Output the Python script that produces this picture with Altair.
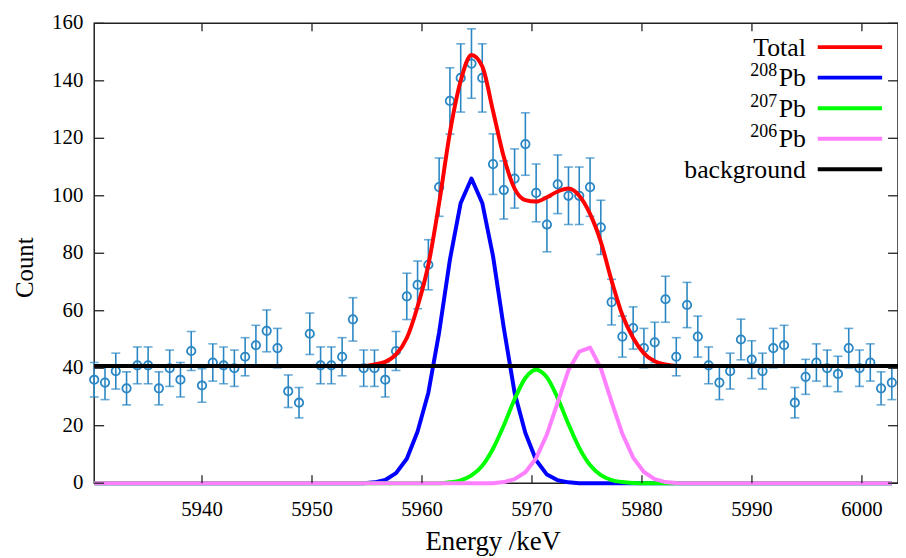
import altair as alt
import pandas as pd

# ---------------- data ----------------
energy = [5930.20, 5931.18, 5932.16, 5933.14, 5934.12, 5935.10, 5936.08, 5937.06, 5938.04, 5939.02,
          5940.00, 5940.98, 5941.96, 5942.94, 5943.92, 5944.90, 5945.88, 5946.86, 5947.84, 5948.82,
          5949.80, 5950.78, 5951.76, 5952.74, 5953.72, 5954.70, 5955.68, 5956.66, 5957.64, 5958.62,
          5959.60, 5960.58, 5961.56, 5962.54, 5963.52, 5964.50, 5965.48, 5966.46, 5967.44, 5968.42,
          5969.40, 5970.38, 5971.36, 5972.34, 5973.32, 5974.30, 5975.28, 5976.26, 5977.24, 5978.22,
          5979.20, 5980.18, 5981.16, 5982.14, 5983.12, 5984.10, 5985.08, 5986.06, 5987.04, 5988.02,
          5989.00, 5989.98, 5990.96, 5991.94, 5992.92, 5993.90, 5994.88, 5995.86, 5996.84, 5997.82,
          5998.80, 5999.78, 6000.76, 6001.74, 6002.72]

counts = [36, 35, 39, 33, 41, 41, 33, 40, 36, 46, 34, 42, 41, 40, 44, 48, 53, 47, 32, 28,
          52, 41, 41, 44, 57, 40, 40, 36, 46, 65, 69, 76, 103, 133, 141, 146, 141, 111, 102, 106,
          118, 101, 90, 104, 100, 100, 103, 89, 63, 51, 54, 47, 49, 64, 44, 62, 51, 41, 35, 39,
          50, 43, 39, 47, 48, 28, 37, 42, 40, 38, 47, 40, 42, 33, 35]

background = [40.8]

# fitted curves, read at the same channel energies (zero / background elsewhere)
pb208 = [0.0] * 26 + [0.3, 1.1, 3.5, 8.5, 18.0, 31.5, 52.5, 77.8, 97.5, 106.0, 97.5, 79.0,
                      54.0, 31.5, 17.5, 8.0, 3.0, 1.0, 0.3] + [0.0] * 30
pb207 = [0.0] * 33 + [0.3, 1.0, 2.7, 6.1, 12.0, 20.1, 29.2, 36.6, 39.5, 36.8, 29.6, 20.5,
                      12.3, 6.3, 2.8, 1.1, 0.4, 0.1] + [0.0] * 24
pb206 = [0.0] * 38 + [0.4, 1.4, 3.8, 8.7, 17.0, 28.1, 39.3, 45.8, 47.2, 40.0, 28.3, 17.2,
                      8.9, 3.9, 1.4, 0.4, 0.1] + [0.0] * 20
total = [40.8] * 26 + [41.3, 42.2, 44.8, 50.5, 61.5, 76.0, 97.5, 122.0, 140.0, 149.0, 145.0,
                       129.5, 113.5, 102.5, 98.5, 98.0, 99.5, 101.5, 102.5, 100.0, 93.7, 84.0,
                       70.5, 58.5, 50.5, 45.2, 42.4, 41.3] + [40.8] * 21

x_ticks = [5940, 5950, 5960, 5970, 5980, 5990, 6000]
y_ticks = [0, 20, 40, 60, 80, 100, 120, 140, 160]

legend_labels = ["Total", "Pb", "Pb", "Pb", "background"]
legend_sups = ["", "208", "207", "206", ""]
legend_colors = ["#ff0000", "#0000ff", "#00ff00", "#ff80ff", "#000000"]

# ---------------- styling ----------------
W, H = 811, 464
FONT = "Liberation Serif"
PT = "#2b87c4"

xs = alt.Scale(domain=[5930.2, 6003.28], nice=False, zero=False)
ys = alt.Scale(domain=[0, 160], nice=False, zero=False)

# axes carry only the titles; tick labels are drawn as serif text marks below
x_axis = alt.Axis(values=x_ticks, title="Energy /keV", grid=False, labels=False,
                  ticks=False, tickSize=0, domain=False,
                  titleFont=FONT, titleFontSize=27, titleFontWeight="normal", titleColor="black",
                  titleX=402, titleY=67, titleBaseline="alphabetic", titleAlign="center")
y_axis = alt.Axis(values=y_ticks, title="Count", grid=False, labels=False,
                  ticks=False, tickSize=0, domain=False,
                  titleFont=FONT, titleFontSize=25, titleFontWeight="normal", titleColor="black",
                  titleAngle=270, titleX=-70, titleY=246, titleBaseline="middle", titleAlign="center")


def X(field):
    return alt.X(field, scale=xs, axis=x_axis)


def Y(field):
    return alt.Y(field, scale=ys, axis=y_axis)


pts = pd.DataFrame({"E": energy, "N": counts})
base = alt.Chart(pts).transform_calculate(
    lo="datum.N - sqrt(datum.N)", hi="datum.N + sqrt(datum.N)")

err = base.mark_rule(color=PT, strokeWidth=1.6).encode(x=X("E:Q"), y=Y("lo:Q"), y2="hi:Q")
cap_lo = base.mark_tick(color=PT, orient="horizontal", size=9, thickness=1.6).encode(
    x=X("E:Q"), y=Y("lo:Q"))
cap_hi = base.mark_tick(color=PT, orient="horizontal", size=9, thickness=1.6).encode(
    x=X("E:Q"), y=Y("hi:Q"))
circles = base.mark_point(shape="circle", filled=False, color=PT, size=72,
                          strokeWidth=1.8, opacity=1).encode(x=X("E:Q"), y=Y("N:Q"))


def curve(vals, color, interp):
    df = pd.DataFrame({"E": energy, "v": vals})
    return alt.Chart(df).mark_line(color=color, strokeWidth=4, strokeJoin="round",
                                   interpolate=interp).encode(x=X("E:Q"), y=Y("v:Q"))


c_total = curve(total, "#ff0000", "monotone")
c_208 = curve(pb208, "#0000ff", "linear")
c_207 = curve(pb207, "#00ff00", "monotone")
c_206 = curve(pb206, "#ff80ff", "linear")
bg = alt.Chart(pd.DataFrame({"b": background})).mark_rule(color="black", strokeWidth=4).encode(
    y=Y("b:Q"))

# inward frame ticks and serif tick labels
xt = alt.Chart(pd.DataFrame({"t": x_ticks}))
yt = alt.Chart(pd.DataFrame({"t": y_ticks}))
tick_col = "#222222"
xt_bot = xt.mark_rule(color=tick_col, strokeWidth=1.3).encode(
    x=X("t:Q"), y=alt.value(H), y2=alt.value(H - 8))
xt_top = xt.mark_rule(color=tick_col, strokeWidth=1.3).encode(
    x=X("t:Q"), y=alt.value(0), y2=alt.value(8))
yt_left = yt.mark_rule(color=tick_col, strokeWidth=1.3).encode(
    y=Y("t:Q"), x=alt.value(0), x2=alt.value(10))
yt_right = yt.mark_rule(color=tick_col, strokeWidth=1.3).encode(
    y=Y("t:Q"), x=alt.value(W), x2=alt.value(W - 10))
xt_lab = xt.mark_text(font=FONT, fontSize=21, color="black", align="center",
                      baseline="alphabetic").encode(
    x=X("t:Q"), y=alt.value(H + 33), text=alt.Text("t:Q", format="d"))
yt_lab = yt.mark_text(font=FONT, fontSize=21, color="black", align="right",
                      baseline="middle").encode(
    y=Y("t:Q"), x=alt.value(-11), text=alt.Text("t:Q", format="d"))

# legend (drawn by hand to allow superscripts)
one = pd.DataFrame({"k": [0]})
legend_layers = []
for k in range(len(legend_labels)):
    ry = 24 + 30.8 * k
    legend_layers.append(
        alt.Chart(one).mark_rule(color=legend_colors[k], strokeWidth=4).encode(
            x=alt.value(730), x2=alt.value(795), y=alt.value(ry)))
    legend_layers.append(
        alt.Chart(one).mark_text(text=legend_labels[k], align="right", baseline="alphabetic",
                                 font=FONT, fontSize=26, color="black").encode(
            x=alt.value(718), y=alt.value(ry + 8.5)))
    if legend_sups[k]:
        legend_layers.append(
            alt.Chart(one).mark_text(text=legend_sups[k], align="right", baseline="alphabetic",
                                     font=FONT, fontSize=18, color="black").encode(
                x=alt.value(689), y=alt.value(ry - 1.5)))

chart = alt.layer(
    err, cap_lo, cap_hi, circles,
    c_total, c_208, c_207, c_206, bg,
    xt_bot, xt_top, yt_left, yt_right, xt_lab, yt_lab,
    *legend_layers
).properties(
    width=W, height=H,
    padding={"left": 87, "top": 13, "right": 0, "bottom": 72},
    autosize=alt.AutoSizeParams(type="none"),
    background="white",
).configure(
    font=FONT
).configure_view(
    stroke="#222222", strokeWidth=1.5
).configure_text(font=FONT)

chart.save("out.html", embed_options={"renderer": "svg", "actions": False})
